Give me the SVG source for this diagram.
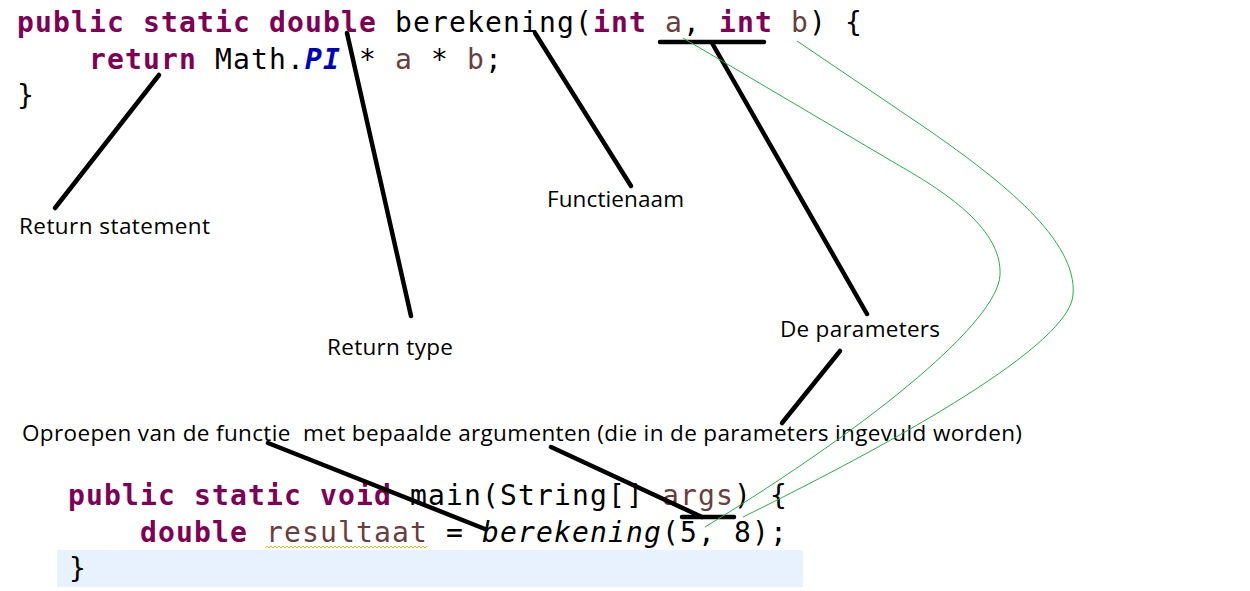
<svg xmlns="http://www.w3.org/2000/svg" width="1250" height="591" viewBox="0 0 1250 591">
<defs>
<style>
.code{font-family:"DejaVu Sans Mono","Liberation Mono",monospace;font-size:28px;letter-spacing:1.14px;white-space:pre;fill:#000}
.kw{fill:#7F0055;font-weight:bold}
.var{fill:#6A3E3E}
.const{fill:#0000C0;font-weight:bold;font-style:italic}
.it{font-style:italic}
.lbl{font-family:"Open Sans","Liberation Sans",sans-serif;font-size:22.5px;fill:#000;white-space:pre}
.pointer{stroke:#000;stroke-width:4.5;stroke-linecap:round;fill:none}
.link{stroke:#22B14C;stroke-width:1;fill:none}
</style>
<pattern id="squiggle" x="265" y="545" width="4" height="4" patternUnits="userSpaceOnUse">
<path d="M0,3 L2,1 L4,3" stroke="#E8B800" stroke-width="1" fill="none"/>
</pattern>
</defs>
<rect width="1250" height="591" fill="#ffffff"/>
<rect x="57" y="550" width="746" height="37" fill="#E8F2FE"/>
<g id="code-definition">
<text class="code" y="32"><tspan x="17" class="kw">public static double</tspan><tspan x="395">berekening(</tspan><tspan x="593" class="kw">int</tspan><tspan x="665" class="var">a</tspan><tspan x="683">,</tspan><tspan x="719" class="kw">int</tspan><tspan x="791" class="var">b</tspan><tspan x="809">) {</tspan></text>
<text class="code" y="68.5"><tspan x="89" class="kw">return</tspan><tspan x="215">Math.</tspan><tspan x="305" class="const">PI</tspan><tspan x="359">*</tspan><tspan x="395" class="var">a</tspan><tspan x="431">*</tspan><tspan x="467" class="var">b</tspan><tspan x="485">;</tspan></text>
<text class="code" x="17" y="105">}</text>
</g>
<g id="code-call">
<text class="code" y="505"><tspan x="68" class="kw">public static void</tspan><tspan x="410">main(String[]</tspan><tspan x="662" class="var">args</tspan><tspan x="734">) {</tspan></text>
<rect x="265" y="545" width="162" height="4" fill="url(#squiggle)"/>
<text class="code" y="541.5"><tspan x="140" class="kw">double</tspan><tspan x="266" class="var">resultaat</tspan><tspan x="446">=</tspan><tspan x="482" class="it">berekening</tspan><tspan x="662">(5, 8);</tspan></text>
<text class="code" x="69" y="578">}</text>
</g>
<g id="label-return-statement"><text class="lbl" x="19" y="234" textLength="191">Return statement</text></g>
<g id="label-return-type"><text class="lbl" x="327" y="355" textLength="126">Return type</text></g>
<g id="label-functienaam"><text class="lbl" x="547" y="207" textLength="137">Functienaam</text></g>
<g id="label-de-parameters"><text class="lbl" x="780" y="337" textLength="160">De parameters</text></g>
<g id="label-oproepen"><text class="lbl" x="22" y="441" textLength="1000" xml:space="preserve">Oproepen van de functie  met bepaalde argumenten (die in de parameters ingevuld worden)</text></g>
<g id="connectors">
<line class="pointer" x1="159" y1="75" x2="55" y2="208"/>
<line class="pointer" x1="347" y1="33" x2="411" y2="316"/>
<line class="pointer" x1="535" y1="33" x2="631" y2="186"/>
<line class="pointer" x1="660" y1="42" x2="764" y2="42"/>
<line class="pointer" x1="712" y1="43" x2="867" y2="314"/>
<line class="pointer" x1="840" y1="351" x2="782" y2="423"/>
<line class="pointer" x1="268" y1="443" x2="485" y2="529"/>
<line class="pointer" x1="551" y1="447" x2="702" y2="517"/>
<line class="pointer" x1="682" y1="517" x2="734" y2="517"/>
<path class="link" d="M683,38 L900,166 C960,200 1002,235 1000,275 C998,320 880,420 705,527"/>
<path class="link" d="M797,41 L930,131 C1000,180 1078,240 1073,295 C1070,335 960,410 743,517"/>
</g>
</svg>
